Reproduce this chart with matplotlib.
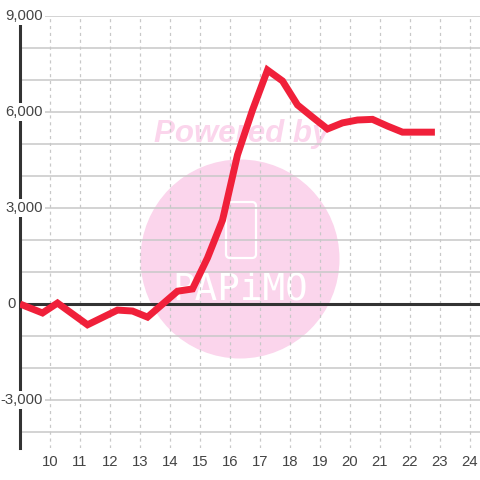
import matplotlib
matplotlib.use("Agg")
import matplotlib.pyplot as plt
from matplotlib.patches import Circle, FancyBboxPatch

plt.rcParams["font.family"] = ["Liberation Sans", "DejaVu Sans"]

# data
hours = [9.0, 9.75, 10.25, 11.25, 12.25, 12.75, 13.25, 14.25, 14.75, 15.25, 15.75, 16.25,
         16.75, 17.25, 17.75, 18.25, 18.75, 19.25, 19.75, 20.25, 20.75, 21.25, 21.75,
         22.25, 22.83]
values = [0, -280, 30, -650, -190, -220, -410, 400, 470, 1440, 2620, 4660,
          6060, 7310, 6970, 6220, 5840, 5470, 5660, 5750, 5770, 5560, 5370,
          5370, 5370]
x_ticks = list(range(10, 25))
y_minor = list(range(-4000, 10000, 1000))
y_labels = [9000, 6000, 3000, 0, -3000]

LINE = "#f0203a"
PINK = "#fbd5ec"
DARK = "#333333"
GRID = "#c8c8c8"
TEXT = "#444444"

fig = plt.figure(figsize=(4.8, 4.8), dpi=100, facecolor="white")

# watermark sits behind the chart, in pixel coordinates
wm = fig.add_axes([0, 0, 1, 1], zorder=0)
wm.set_xlim(0, 480)
wm.set_ylim(480, 0)
wm.axis("off")
wm.add_patch(Circle((240, 259), 99.5, color=PINK, lw=0))
wm.add_patch(FancyBboxPatch((228, 204), 26, 52, boxstyle="round,pad=2,rounding_size=4",
                            fc="none", ec="white", lw=1.6))
wm.text(242, 134, "Powered by", color=PINK, fontsize=22.5, fontweight="bold",
        fontstyle="italic", ha="center", va="center")
wm.text(240, 290, "PAPiMO", color="white", fontsize=27, family="DejaVu Sans Mono",
        ha="center", va="center")

ax = fig.add_axes([20 / 480, 32 / 480, 460 / 480, 432 / 480], zorder=1)
ax.patch.set_alpha(0)
ax.set_xlim(9, 24 + 1 / 3)
ax.set_ylim(-4500, 9000)

for s in ["top", "right", "bottom"]:
    ax.spines[s].set_visible(False)
ax.spines["left"].set_linewidth(2.2)
ax.spines["left"].set_color(DARK)
ax.spines["left"].set_zorder(2)

ax.set_yticks(y_minor)
ax.set_xticks(x_ticks)
ax.tick_params(axis="y", length=0, labelleft=False)
ax.tick_params(axis="x", length=0, labelsize=10.7, labelcolor=TEXT, pad=5)
ax.grid(axis="y", color=GRID, lw=1.1, zorder=1)
ax.grid(axis="x", color=GRID, lw=0.9, ls=(0, (2.5, 3)), zorder=1)
ax.set_axisbelow(True)

ax.axhline(0, color=DARK, lw=2.2, zorder=3)
ax.plot(hours, values, color=LINE, lw=5, solid_joinstyle="miter",
        solid_capstyle="butt", zorder=4)

# y labels sit inside the plot on a white box that cuts the axis line
for v in y_labels:
    label = f"{v:,}"
    xoff = 43 if v != 0 else 16
    ax.annotate(label, (0, v), xycoords=("axes fraction", "data"),
                xytext=((xoff - 20) * 0.72, 0), textcoords="offset points",
                ha="right", va="center", fontsize=10.7, color=TEXT, zorder=5,
                annotation_clip=False,
                bbox=dict(fc="white", ec="none", pad=1.5))

fig.savefig("out.png", dpi=100)
